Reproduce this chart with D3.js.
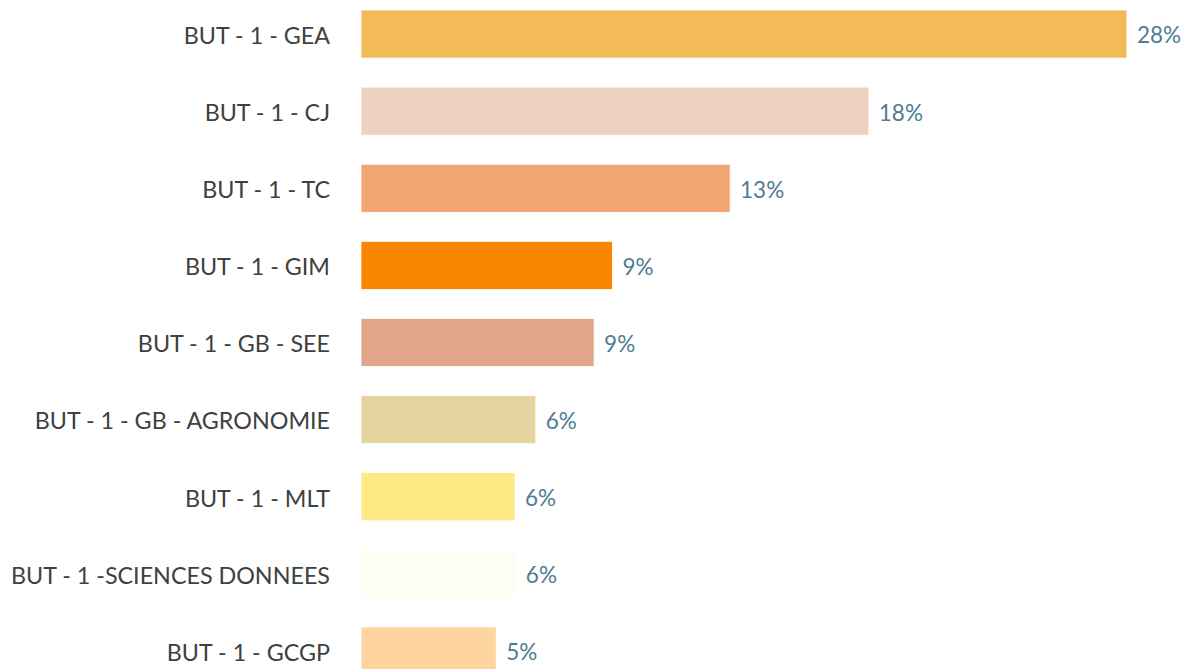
<!DOCTYPE html>
<html>
<head>
<meta charset="utf-8">
<script src="https://cdn.jsdelivr.net/npm/d3@7"></script>
<style>
  html, body { margin: 0; padding: 0; background: #fff; }
  svg { display: block; }
  text { font-family: "Lato", "DejaVu Sans", sans-serif; }
</style>
</head>
<body>
<svg id="chart"></svg>
<script>
// categories, top to bottom
var categories = [
  "BUT - 1 - GEA",
  "BUT - 1 - CJ",
  "BUT - 1 - TC",
  "BUT - 1 - GIM",
  "BUT - 1 - GB - SEE",
  "BUT - 1 - GB - AGRONOMIE",
  "BUT - 1 - MLT",
  "BUT - 1 -SCIENCES DONNEES",
  "BUT - 1 - GCGP"
]
// share in %
var values = [27.6, 18.3, 13.3, 9.06, 8.4, 6.3, 5.55, 5.58, 4.87]
// data labels as printed on the chart
var valueLabels = ["28%", "18%", "13%", "9%", "9%", "6%", "6%", "6%", "5%"]
var colors = ["#F2BB57", "#EED1C1", "#F1A570", "#F98500", "#E2A78A",
              "#E5D4A0", "#FFE984", "#FFFEF2", "#FFD59F"]

var width = 1188, height = 669

var svg = d3.select("#chart")
  .attr("width", width)
  .attr("height", height)

var x = d3.scaleLinear()
  .domain([0, 30])
  .range([361, 361 + 832.5])

var y = d3.scaleBand()
  .domain(categories)
  .range([10, 675])
  .paddingInner(0.377)
  .paddingOuter(0)

// bars
svg.selectAll("rect.bar")
  .data(categories)
  .enter().append("rect")
  .attr("class", "bar")
  .attr("x", x(0))
  .attr("y", function(d) { return y(d) })
  .attr("width", function(d, i) { return x(values[i]) - x(0) })
  .attr("height", y.bandwidth())
  .attr("fill", function(d, i) { return colors[i] })
  .attr("stroke", "#fff")
  .attr("stroke-width", 0.75)

// category labels
svg.selectAll("text.cat")
  .data(categories)
  .enter().append("text")
  .attr("class", "cat")
  .attr("x", 330)
  .attr("y", function(d) { return y(d) + y.bandwidth() / 2 })
  .attr("dy", "0.42em")
  .attr("text-anchor", "end")
  .attr("font-size", 23.3)
  .attr("fill", "#404040")
  .text(function(d) { return d })

// value labels
svg.selectAll("text.val")
  .data(categories)
  .enter().append("text")
  .attr("class", "val")
  .attr("x", function(d, i) { return x(values[i]) + 10 })
  .attr("y", function(d) { return y(d) + y.bandwidth() / 2 })
  .attr("dy", "0.42em")
  .attr("font-size", 22.5)
  .attr("fill", "#4E7D92")
  .text(function(d, i) { return valueLabels[i] })
</script>
</body>
</html>
